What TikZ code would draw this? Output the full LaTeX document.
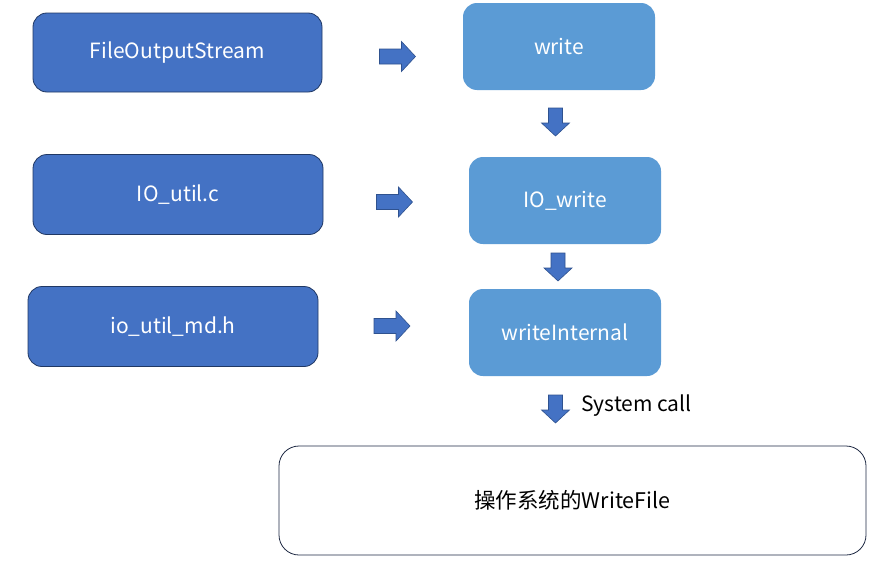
\documentclass[tikz,border=0pt]{standalone}
\usepackage{fontspec}
\setmainfont{Noto Sans CJK SC}
\definecolor{darkblue}{HTML}{4472C4}
\definecolor{darkedge}{HTML}{203864}
\definecolor{lightblue}{HTML}{5B9BD5}
\definecolor{arrowedge}{HTML}{2F528F}
\definecolor{osedge}{HTML}{1F2A44}
\begin{document}
\begin{tikzpicture}[x=1pt,y=-1pt,
  lbl/.style={font=\fontsize{21}{24}\selectfont},
  darkbox/.style={draw=darkedge,line width=0.8pt,fill=darkblue,rounded corners=14pt,
    text=white,lbl,inner sep=0pt},
  lightbox/.style={fill=lightblue,rounded corners=14pt,
    text=white,lbl,inner sep=0pt,
    minimum width=192pt,minimum height=87pt},
  osbox/.style={draw=osedge,line width=0.8pt,fill=white,rounded corners=20pt,
    text=black,font=\fontsize{21.5}{24}\selectfont,inner sep=0pt,
    minimum width=587pt,minimum height=109pt},
  blockarrow/.style={fill=darkblue,draw=arrowedge,line width=0.6pt},
  rarrow/.pic={\path[blockarrow] (-18,-7.5) -- (4,-7.5) -- (4,-15) -- (18,0) -- (4,15) -- (4,7.5) -- (-18,7.5) -- cycle;},
  darrow/.pic={\path[blockarrow] (-7,-14) -- (7,-14) -- (7,1) -- (14,1) -- (0,14) -- (-14,1) -- (-7,1) -- (-7,-14) -- cycle;}
]
\useasboundingbox (0,0) rectangle (877,562);
\fill[white] (0,0) rectangle (877,562);
\node[darkbox,minimum width=289pt,minimum height=79pt] (fos) at (177.5,52.5) {FileOutputStream};
\node[darkbox,minimum width=290pt,minimum height=80pt] (ioc) at (178,194.5) {IO\_util.c};
\node[darkbox,minimum width=290pt,minimum height=80pt] (md) at (173,326.5) {io\_util\_md.h};
\node[lightbox] (write) at (559,46.5) {write};
\node[lightbox] (iow) at (565,200.5) {IO\_write};
\node[lightbox] (wi) at (565,332.5) {writeInternal};
\node[osbox] (os) at (572.5,500.5) {操作系统的WriteFile};
\pic at (397.5,56.5) {rarrow};
\pic at (394.5,202) {rarrow};
\pic at (392,326) {rarrow};
\pic at (555.5,122) {darrow};
\pic at (558,267) {darrow};
\pic at (555.5,409) {darrow};
\node[anchor=west,inner sep=0pt,font=\fontsize{21}{24}\selectfont] (sc) at (581,406) {System call};
\end{tikzpicture}
\end{document}
